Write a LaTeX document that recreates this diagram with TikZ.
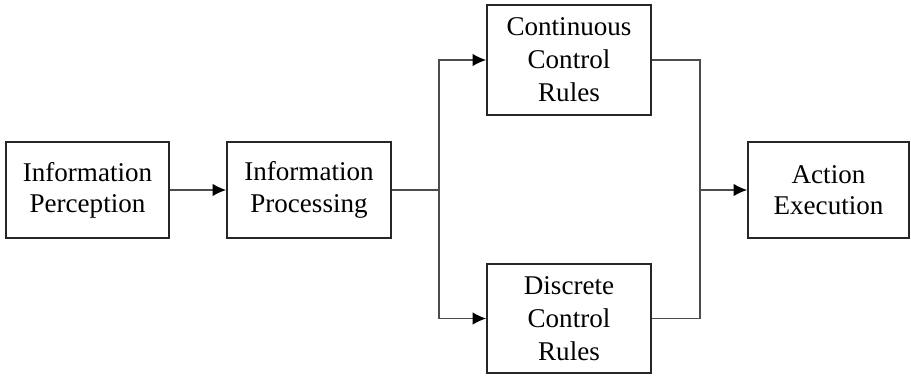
\documentclass[tikz,border=0pt]{standalone}
\usepackage{fontspec}
\setmainfont{Liberation Serif}
\usetikzlibrary{arrows.meta}

\begin{document}
\begin{tikzpicture}[>={Latex[length=0.27cm,width=0.25cm,color=black]},
  box/.style={draw=black!85,line width=1.1pt,align=center,inner sep=0pt,
    font=\fontsize{15.4}{17.8}\selectfont},
  link/.style={draw=black!70,line width=0.6pt}]
\useasboundingbox (0,0) rectangle (18.22,7.5);

\node[box,minimum width=3.26cm,minimum height=1.92cm](perc) at (1.75,3.7) {Information\\Perception};
\node[box,minimum width=3.28cm,minimum height=1.92cm](proc) at (6.18,3.7) {Information\\Processing};
\node[box,minimum width=3.28cm,minimum height=2.2cm,font=\fontsize{15.4}{18.8}\selectfont](cont) at (11.38,6.3) {Continuous\\Control\\Rules};
\node[box,minimum width=3.28cm,minimum height=2.18cm,font=\fontsize{15.4}{18.8}\selectfont](disc) at (11.38,1.13) {Discrete\\Control\\Rules};
\node[box,minimum width=3.22cm,minimum height=1.92cm](act) at (16.57,3.7) {Action\\Execution};

\coordinate (split) at (8.78,3.7);
\coordinate (join) at (14,3.7);

\draw[link,->] (perc) -- (proc);
\draw[link] (proc) -- (split);
\draw[link,->] (split) |- (cont);
\draw[link,->] (split) |- (disc);
\draw[link] (cont) -| (join);
\draw[link] (disc) -| (join);
\draw[link,->] (join) -- (act);
\end{tikzpicture}
\end{document}
